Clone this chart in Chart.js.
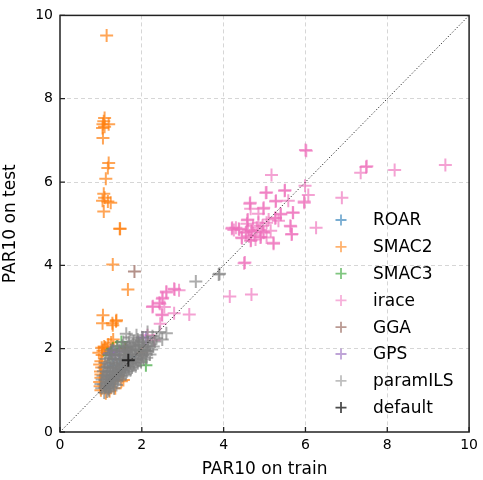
<!DOCTYPE html>
<html><head><meta charset="utf-8">
<script src="https://cdn.jsdelivr.net/npm/chart.js@4"></script>
<style>html,body{margin:0;padding:0;background:#fff}canvas{display:block}</style>
</head><body>
<canvas id="c" width="483" height="480"></canvas>
<script>
const seriesNames = ['ROAR','SMAC2','SMAC3','irace','GGA','GPS','paramILS','default'];
const tickValues = [0,2,4,6,8,10];
const xTitle = 'PAR10 on train';
const yTitle = 'PAR10 on test';

const roar = [[1.3,1.6],[1.5,1.5],[1.45,1.75],[1.7,1.8]];
const smac2 = [[1.14,9.52],[1.09,7.54],[1.07,7.46],[1.05,7.39],[1.19,7.39],[1.04,7.3],[1.09,7.33],[1.05,7.06],
  [1.19,6.46],[1.17,6.34],[1.12,6.08],[1.07,5.72],[1.09,5.62],[1.04,5.55],[1.17,5.53],[1.24,5.5],[1.07,5.29],
  [1.46,4.88],[1.47,4.88],[1.29,4.02],[1.66,3.42],[1.05,2.8],[1.04,2.61],[1.28,2.61],[1.38,2.68],[1.37,2.66],[1.29,2.56],
  [1.0,1.0],[0.98,1.1],[0.97,1.2],[1.0,1.3],[0.99,1.45],[1.02,1.55],[1.0,1.7],[1.03,1.85],[1.05,1.95],[1.02,2.02],
  [1.1,2.02],[1.15,1.98],[0.95,1.9],[1.12,0.93],[1.21,0.98],[1.35,1.05],[1.5,1.22],[1.55,1.25],[1.25,2.15],[1.3,2.22],
  [1.08,2.05],[1.18,2.1],[0.97,1.62],[1.0,1.38]];
const smac3 = [[1.21,1.84],[1.29,2.0],[1.5,2.16],[1.62,2.03],[2.1,1.6],[1.58,2.03],[1.94,1.96],[1.25,1.9],[1.4,2.05]];
const irace = [[6.0,6.77],[7.48,6.36],[7.35,6.22],[8.18,6.29],[9.42,6.41],[5.17,6.17],[5.99,5.91],[6.07,5.69],[6.89,5.62],
  [5.03,5.74],[5.49,5.79],[5.97,5.53],[5.58,5.55],[5.27,5.53],[4.64,5.48],[4.66,5.36],[4.98,5.38],[5.39,5.24],[5.7,5.26],
  [4.85,5.24],[5.27,5.14],[4.59,5.1],[4.57,5.0],[4.85,5.02],[5.05,5.02],[5.34,5.07],[4.2,4.88],[4.37,4.88],[4.54,4.78],
  [4.68,4.83],[4.81,4.9],[4.98,4.78],[4.44,4.67],[4.66,4.59],[4.9,4.67],[5.05,4.67],[5.22,4.52],[5.15,4.83],[5.63,4.95],
  [5.66,4.74],[6.26,4.9],[4.5,4.05],[4.15,3.25],[4.68,3.3],[2.79,3.44],[2.91,3.4],[2.6,3.35],[2.5,3.2],[2.43,3.1],
  [2.26,3.0],[2.55,3.0],[2.5,2.8],[2.79,2.85],[3.16,2.82],[2.45,2.6],[4.3,4.9],[4.75,4.72],[4.6,4.85],[4.9,4.85],
  [2.14,2.32],[2.3,2.2],[4.25,4.85],[4.72,4.95],[4.95,4.95],[4.62,4.7],[5.1,5.1],[4.78,4.62],
  [6.02,6.75],[7.5,6.38],[5.5,5.8],[5.05,5.75],[5.28,5.55],[4.65,5.5],[4.97,5.36],[5.4,5.22],[5.69,5.27],[5.97,5.5],
  [4.58,5.08],[5.26,5.13],[4.21,4.9],[4.38,4.86],[4.55,4.8],[4.69,4.81],[4.97,4.8],[4.45,4.65],[4.67,4.6],[4.91,4.68],
  [5.22,4.54],[5.64,4.93],[5.67,4.75],[2.27,3.02],[2.44,3.08],[2.51,3.22],[2.6,3.37],[2.8,3.42],[2.49,2.82],[4.52,4.07]];
const gga = [[1.82,3.85],[1.6,2.0],[2.0,1.9]];
const gps = [[1.21,1.89],[2.1,2.27],[2.02,2.27],[1.3,1.95],[1.45,1.92],[1.35,1.85]];
const paramILS = [[1.08,0.95],[1.15,0.97],[1.2,1.0],
  [1.02,1.05],[1.1,1.06],[1.18,1.04],[1.25,1.08],[1.32,1.05],
  [1.0,1.15],[1.07,1.14],[1.14,1.17],[1.22,1.15],[1.3,1.16],[1.38,1.13],
  [1.03,1.26],[1.1,1.24],[1.17,1.27],[1.25,1.25],[1.33,1.27],[1.41,1.24],[1.48,1.28],
  [1.05,1.35],[1.12,1.37],[1.2,1.34],[1.28,1.36],[1.36,1.33],[1.44,1.37],[1.52,1.35],[1.6,1.38],
  [1.06,1.46],[1.14,1.44],[1.22,1.47],[1.3,1.45],[1.38,1.46],[1.46,1.43],[1.55,1.47],[1.63,1.45],[1.72,1.48],
  [1.08,1.55],[1.16,1.57],[1.24,1.54],[1.32,1.56],[1.4,1.55],[1.5,1.58],[1.58,1.54],[1.67,1.56],[1.76,1.55],[1.85,1.58],
  [1.1,1.66],[1.18,1.64],[1.27,1.67],[1.36,1.65],[1.45,1.66],[1.54,1.64],[1.63,1.67],[1.72,1.64],[1.8,1.66],[1.9,1.65],[1.98,1.68],
  [1.13,1.75],[1.22,1.77],[1.31,1.74],[1.4,1.76],[1.5,1.75],[1.6,1.77],[1.7,1.74],[1.78,1.76],[1.87,1.75],[1.96,1.77],[2.05,1.74],[2.12,1.78],
  [1.18,1.86],[1.27,1.84],[1.36,1.87],[1.46,1.85],[1.56,1.86],[1.66,1.84],[1.75,1.87],[1.84,1.85],[1.93,1.86],[2.02,1.84],[2.1,1.88],[2.2,1.86],
  [1.25,1.96],[1.35,1.94],[1.45,1.97],[1.55,1.95],[1.65,1.96],[1.75,1.94],[1.85,1.97],[1.95,1.95],[2.05,1.96],[2.14,1.94],[2.24,1.98],
  [1.4,2.05],[1.52,2.07],[1.63,2.04],[1.74,2.06],[1.85,2.05],[1.95,2.08],[2.05,2.04],[2.15,2.06],[2.28,2.05],
  [1.55,2.16],[1.68,2.14],[1.8,2.17],[1.92,2.15],[2.03,2.16],[2.15,2.14],[2.32,2.17],
  [1.7,2.27],[1.87,2.32],[2.02,2.26],[2.14,2.4],[2.26,2.3],[2.43,2.4],[2.6,2.37],[2.5,2.22],[1.62,2.36],
  [1.12,1.1],[1.2,1.2],[1.28,1.3],[1.36,1.4],[1.44,1.5],[1.52,1.6],[1.6,1.7],[1.68,1.8],[1.76,1.9],[1.84,2.0],[1.92,2.1],[2.0,2.2],
  [1.15,1.32],[1.23,1.42],[1.31,1.52],[1.39,1.62],[1.47,1.72],[1.55,1.82],[1.63,1.92],[1.71,2.0],[1.79,2.1],[1.9,2.22],
  [1.2,1.1],[1.3,1.22],[1.42,1.32],[1.55,1.42],[1.68,1.52],[1.8,1.6],[1.92,1.72],[2.0,1.82],[2.1,1.95],[2.2,2.1],[2.36,2.25],
  [3.32,3.61],[3.9,3.8],[3.88,3.78]];
const defaults = [[1.67,1.72]];
const diagonal = [[0,0],[10,10]];

const seriesData = [roar, smac2, smac3, irace, gga, gps, paramILS, defaults];
const seriesRGB = ['31,119,180','255,127,14','44,160,44','238,112,188','140,86,75','148,103,189','127,127,127','0,0,0'];
const pointAlpha = [0.65,0.7,0.65,0.65,0.65,0.65,0.65,0.7];
const legendAlpha = [0.6,0.6,0.6,0.55,0.6,0.6,0.5,0.7];

const FONT = 'DejaVu Sans';
const toPts = arr => arr.map(p => ({x:p[0], y:p[1]}));

const datasets = seriesNames.map((name,i) => ({
  label: name,
  data: toPts(seriesData[i]),
  pointStyle: 'cross',
  pointRadius: 6.5,
  pointHoverRadius: 6.5,
  pointBorderWidth: 2,
  borderColor: 'rgba(' + seriesRGB[i] + ',' + pointAlpha[i] + ')',
  backgroundColor: 'rgba(' + seriesRGB[i] + ',' + pointAlpha[i] + ')',
  showLine: false,
  order: seriesNames.length - i
}));
datasets.push({
  label: '_diag',
  data: toPts(diagonal),
  showLine: true,
  pointRadius: 0,
  borderColor: 'rgba(30,30,30,0.95)',
  borderWidth: 1,
  borderDash: [1.2,2],
  order: 0
});

const framePlugin = {
  id: 'frame',
  afterDatasetsDraw(chart) {
    const {ctx, chartArea: a, scales: {x, y}} = chart;
    ctx.save();
    ctx.strokeStyle = '#222';
    ctx.lineWidth = 1.5;
    ctx.strokeRect(a.left, a.top, a.right - a.left, a.bottom - a.top);
    ctx.lineWidth = 1.3;
    ctx.beginPath();
    tickValues.forEach(v => {
      const px = x.getPixelForValue(v);
      ctx.moveTo(px, a.bottom); ctx.lineTo(px, a.bottom - 5);
      const py = y.getPixelForValue(v);
      ctx.moveTo(a.left, py); ctx.lineTo(a.left + 5, py);
    });
    ctx.stroke();
    ctx.restore();
  },
  afterDraw(chart) {
    const {ctx, chartArea: a} = chart;
    const mx = a.left + 281, tx = a.left + 313;
    const y0 = 220, dy = 26.8;
    ctx.save();
    ctx.font = '17px "' + FONT + '"';
    ctx.textBaseline = 'middle';
    ctx.textAlign = 'left';
    seriesNames.forEach((name, i) => {
      const yy = y0 + i * dy;
      ctx.strokeStyle = 'rgba(' + seriesRGB[i] + ',' + legendAlpha[i] + ')';
      ctx.lineWidth = 1.8;
      ctx.beginPath();
      ctx.moveTo(mx - 5.5, yy); ctx.lineTo(mx + 5.5, yy);
      ctx.moveTo(mx, yy - 5.5); ctx.lineTo(mx, yy + 5.5);
      ctx.stroke();
      ctx.fillStyle = '#000';
      ctx.fillText(name, tx, yy + 1);
    });
    ctx.restore();
  }
};

const gridColor = c => (c.tick && (c.tick.value === 0 || c.tick.value === 10)) ? 'rgba(0,0,0,0)' : '#d6d6d6';

new Chart(document.getElementById('c'), {
  type: 'scatter',
  data: { datasets },
  options: {
    responsive: false,
    devicePixelRatio: 1,
    animation: false,
    layout: { padding: { top: 14, right: 11, left: 0, bottom: 0 } },
    plugins: { legend: { display: false }, tooltip: { enabled: false } },
    scales: {
      x: {
        type: 'linear', min: 0, max: 10,
        afterBuildTicks: s => { s.ticks = tickValues.map(v => ({value: v})); },
        ticks: { font: { family: FONT, size: 14 }, color: '#000', padding: 5, maxRotation: 0 },
        grid: { color: gridColor, lineWidth: 1, drawTicks: false },
        border: { display: false, dash: [4, 3] },
        title: { display: true, text: xTitle, color: '#000', font: { family: FONT, size: 17 }, padding: { top: 2, bottom: 0 } },
        afterFit: s => { s.height = 48; }
      },
      y: {
        type: 'linear', min: 0, max: 10,
        afterBuildTicks: s => { s.ticks = tickValues.map(v => ({value: v})); },
        ticks: { font: { family: FONT, size: 14 }, color: '#000', padding: 7 },
        grid: { color: gridColor, lineWidth: 1, drawTicks: false },
        border: { display: false, dash: [4, 3] },
        title: { display: true, text: yTitle, color: '#000', font: { family: FONT, size: 17 }, padding: { top: 0, bottom: 8 } },
        afterFit: s => { s.width = 60; }
      }
    }
  },
  plugins: [framePlugin]
});
</script>
</body></html>
